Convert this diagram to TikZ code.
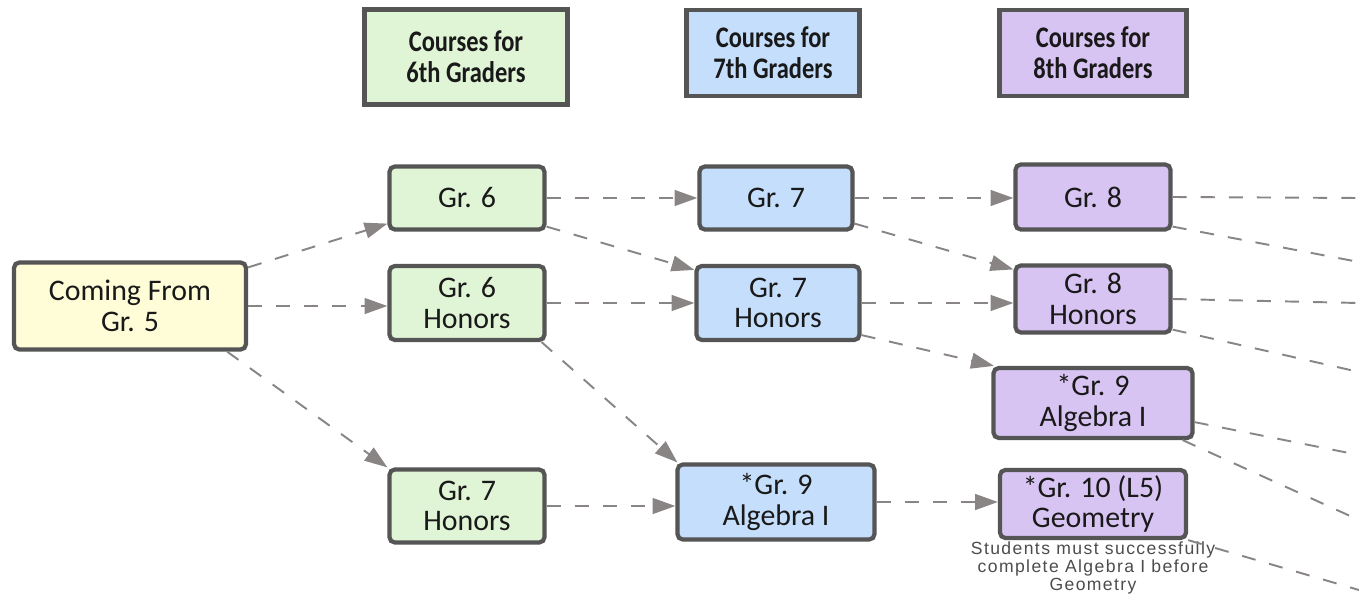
\documentclass[tikz,border=0pt]{standalone}
\usepackage{fontspec}
\setmainfont{Carlito}
\newfontfamily\headfont[FakeStretch=0.82]{Carlito}
\newfontfamily\notefont[LetterSpace=8]{Liberation Sans}
\usetikzlibrary{arrows.meta}

\definecolor{boxline}{HTML}{555555}
\definecolor{arrowgray}{HTML}{8A8585}
\definecolor{fromyellow}{HTML}{FFFDD8}
\definecolor{sixgreen}{HTML}{E0F4D6}
\definecolor{sevenblue}{HTML}{C4DEFB}
\definecolor{eightpurple}{HTML}{D8C4F3}

\tikzset{
  course/.style={draw=boxline, line width=2.4pt, rounded corners=3pt, align=center,
    text=black!90, inner sep=2pt, font=\fontsize{17}{17.5}\selectfont},
  header/.style={draw=boxline, line width=2.6pt, align=center, text=black!90,
    inner sep=2pt, font=\headfont\bfseries\fontsize{17}{17.5}\selectfont},
  path/.style={draw=arrowgray, line width=1.1pt, dash pattern=on 8pt off 8pt,
    -{Triangle[length=13pt,width=9pt]}},
  exit/.style={draw=arrowgray, line width=1.1pt, dash pattern=on 8pt off 8pt},
}

\begin{document}
\begin{tikzpicture}[x=0.02cm,y=-0.02cm]%
    \useasboundingbox (0,0) rectangle (1359,598);
    % column headers
    \node[header, fill=sixgreen, minimum width=4.06cm, minimum height=1.9cm] (h6) at (466,57) {Courses for\\6th Graders};
    \node[header, fill=sevenblue, minimum width=3.46cm, minimum height=1.72cm] (h7) at (773,53) {Courses for\\7th Graders};
    \node[header, fill=eightpurple, minimum width=3.74cm, minimum height=1.72cm] (h8) at (1093,53) {Courses for\\8th Graders};

    % start
    \node[course, fill=fromyellow, minimum width=4.64cm, minimum height=1.74cm] (c5) at (130,306) {Coming From\\Gr. 5};

    % 6th grade
    \node[course, fill=sixgreen, minimum width=3.1cm, minimum height=1.26cm] (g6) at (467,198) {Gr. 6};
    \node[course, fill=sixgreen, minimum width=3.1cm, minimum height=1.48cm] (g6h) at (467,303) {Gr. 6\\Honors};
    \node[course, fill=sixgreen, minimum width=3.1cm, minimum height=1.46cm] (g7hg) at (467,506) {Gr. 7\\Honors};

    % 7th grade
    \node[course, fill=sevenblue, minimum width=3.06cm, minimum height=1.26cm] (g7) at (776,198) {Gr. 7};
    \node[course, fill=sevenblue, minimum width=3.26cm, minimum height=1.48cm] (g7h) at (778,303) {Gr. 7\\Honors};
    \node[course, fill=sevenblue, minimum width=3.94cm, minimum height=1.5cm] (a9b) at (776,502) {*Gr. 9\\Algebra I};

    % 8th grade
    \node[course, fill=eightpurple, minimum width=3.1cm, minimum height=1.3cm] (g8) at (1093,197) {Gr. 8};
    \node[course, fill=eightpurple, minimum width=3.1cm, minimum height=1.34cm] (g8h) at (1093,299) {Gr. 8\\Honors};
    \node[course, fill=eightpurple, minimum width=3.98cm, minimum height=1.4cm] (a9p) at (1093,403) {*Gr. 9\\Algebra I};
    \node[course, fill=eightpurple, minimum width=3.72cm, minimum height=1.36cm] (geo) at (1093,504) {*Gr. 10 (L5)\\Geometry};
    \node[font=\notefont\fontsize{10}{10.2}\selectfont, text=black!70, align=center, inner sep=0pt] (note) at (1093,568)
      {Students must successfully\\complete Algebra I before\\Geometry};

    % free ends past the right edge
    \coordinate (e1) at (1359,198);
    \coordinate (e2) at (1359,262);
    \coordinate (e3) at (1359,303);
    \coordinate (e4) at (1359,372);
    \coordinate (e5) at (1359,455);
    \coordinate (e6) at (1359,520);
    \coordinate (e7) at (1359,590);

    % from grade 5
    \draw[path] ([yshift=-0.14cm]c5.north east) -- ([yshift=0.16cm]g6.south west);
    \draw[path] (c5.east) -- (c5.east -| g6h.west);
    \draw[path] ([xshift=-0.42cm]c5.south east) -- (g7hg.north west);

    % into grade 7
    \draw[path] (g6.east) -- (g7.west);
    \draw[path] ([yshift=0.1cm]g6.south east) -- ([yshift=-0.12cm]g7h.north west);
    \draw[path] (g6h.east) -- (g7h.west);
    \draw[path] ([xshift=-0.1cm]g6h.south east) -- ([xshift=0.04cm]a9b.north west);
    \draw[path] (g7hg.east) -- (g7hg.east -| a9b.west);

    % into grade 8
    \draw[path] (g7.east) -- (g7.east -| g8.west);
    \draw[path] ([yshift=0.16cm]g7.south east) -- ([yshift=-0.12cm]g8h.north west);
    \draw[path] (g7h.east) -- (g7h.east -| g8h.west);
    \draw[path] ([yshift=0.14cm]g7h.south east) -- ([xshift=0.05cm]a9p.north west);
    \draw[path] (a9b.east) -- (a9b.east -| geo.west);

    % on to high school
    \draw[exit] (g8.east) -- (e1);
    \draw[exit] ([yshift=0.1cm]g8.south east) -- (e2);
    \draw[exit] (g8h.east) -- (e3);
    \draw[exit] ([yshift=0.1cm]g8h.south east) -- (e4);
    \draw[exit] ([yshift=0.36cm]a9p.south east) -- (e5);
    \draw[exit] ([xshift=-0.24cm]a9p.south east) -- (e6);
    \draw[exit] (geo.south east) -- (e7);
\end{tikzpicture}
\end{document}
